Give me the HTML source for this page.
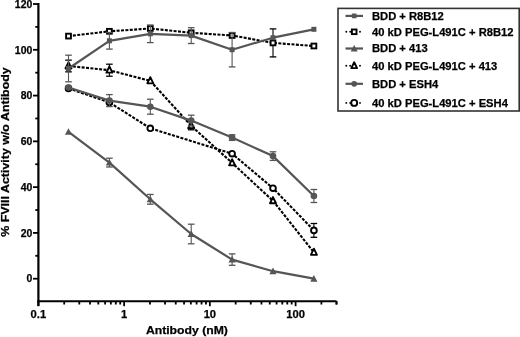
<!DOCTYPE html>
<html><head><meta charset="utf-8"><style>
html,body{margin:0;padding:0;background:#fff;}
svg{display:block;will-change:transform;}
.t{font-family:"Liberation Sans",sans-serif;font-weight:bold;font-size:11px;fill:#000;stroke:#000;stroke-width:0.25px;}
.lg{font-family:"Liberation Sans",sans-serif;font-weight:bold;font-size:11.2px;fill:#000;stroke:#000;stroke-width:0.25px;}
.ti{font-family:"Liberation Sans",sans-serif;font-weight:bold;font-size:11.6px;fill:#000;stroke:#000;stroke-width:0.25px;}
</style></head><body>
<svg width="520" height="337" viewBox="0 0 520 337">
<rect width="520" height="337" fill="#fff"/>
<line x1="109.40" y1="158.20" x2="109.40" y2="167.00" stroke="#555" stroke-width="1.1" />
<line x1="106.10" y1="158.20" x2="112.70" y2="158.20" stroke="#555" stroke-width="1.3" />
<line x1="106.10" y1="167.00" x2="112.70" y2="167.00" stroke="#555" stroke-width="1.3" />
<line x1="150.30" y1="194.45" x2="150.30" y2="204.15" stroke="#555" stroke-width="1.1" />
<line x1="147.00" y1="194.45" x2="153.60" y2="194.45" stroke="#555" stroke-width="1.3" />
<line x1="147.00" y1="204.15" x2="153.60" y2="204.15" stroke="#555" stroke-width="1.3" />
<line x1="191.20" y1="224.20" x2="191.20" y2="243.80" stroke="#555" stroke-width="1.1" />
<line x1="187.90" y1="224.20" x2="194.50" y2="224.20" stroke="#555" stroke-width="1.3" />
<line x1="187.90" y1="243.80" x2="194.50" y2="243.80" stroke="#555" stroke-width="1.3" />
<line x1="232.10" y1="253.90" x2="232.10" y2="265.30" stroke="#555" stroke-width="1.1" />
<line x1="228.80" y1="253.90" x2="235.40" y2="253.90" stroke="#555" stroke-width="1.3" />
<line x1="228.80" y1="265.30" x2="235.40" y2="265.30" stroke="#555" stroke-width="1.3" />
<polyline points="68.50,131.80 109.40,162.60 150.30,199.30 191.20,234.00 232.10,259.60 273.00,271.20 313.90,278.70" fill="none" stroke="#555" stroke-width="2.2" stroke-linejoin="round"/>
<path d="M68.50,128.17 L72.10,134.77 L64.90,134.77Z" fill="#555"/>
<path d="M109.40,158.97 L113.00,165.57 L105.80,165.57Z" fill="#555"/>
<path d="M150.30,195.67 L153.90,202.27 L146.70,202.27Z" fill="#555"/>
<path d="M191.20,230.37 L194.80,236.97 L187.60,236.97Z" fill="#555"/>
<path d="M232.10,255.97 L235.70,262.57 L228.50,262.57Z" fill="#555"/>
<path d="M273.00,267.57 L276.60,274.17 L269.40,274.17Z" fill="#555"/>
<path d="M313.90,275.07 L317.50,281.67 L310.30,281.67Z" fill="#555"/>
<line x1="68.50" y1="60.15" x2="68.50" y2="71.85" stroke="#000" stroke-width="1.1" />
<line x1="65.20" y1="60.15" x2="71.80" y2="60.15" stroke="#000" stroke-width="1.3" />
<line x1="65.20" y1="71.85" x2="71.80" y2="71.85" stroke="#000" stroke-width="1.3" />
<line x1="109.40" y1="64.20" x2="109.40" y2="76.20" stroke="#000" stroke-width="1.1" />
<line x1="106.10" y1="64.20" x2="112.70" y2="64.20" stroke="#000" stroke-width="1.3" />
<line x1="106.10" y1="76.20" x2="112.70" y2="76.20" stroke="#000" stroke-width="1.3" />
<line x1="191.20" y1="121.80" x2="191.20" y2="129.80" stroke="#000" stroke-width="1.1" />
<line x1="187.90" y1="121.80" x2="194.50" y2="121.80" stroke="#000" stroke-width="1.3" />
<line x1="187.90" y1="129.80" x2="194.50" y2="129.80" stroke="#000" stroke-width="1.3" />
<polyline points="68.50,66.00 109.40,70.20 150.30,80.90 191.20,125.80 232.10,162.90 273.00,200.80 313.90,252.40" fill="none" stroke="#000" stroke-width="2.1" stroke-dasharray="3.0 1.4"/>
<path d="M68.50,62.25 L71.50,68.45 L65.50,68.45Z" fill="#fff" stroke="#000" stroke-width="1.9" stroke-linejoin="round"/>
<path d="M109.40,66.45 L112.40,72.65 L106.40,72.65Z" fill="#fff" stroke="#000" stroke-width="1.9" stroke-linejoin="round"/>
<path d="M150.30,77.15 L153.30,83.35 L147.30,83.35Z" fill="#fff" stroke="#000" stroke-width="1.9" stroke-linejoin="round"/>
<path d="M191.20,122.05 L194.20,128.25 L188.20,128.25Z" fill="#fff" stroke="#000" stroke-width="1.9" stroke-linejoin="round"/>
<path d="M232.10,159.15 L235.10,165.35 L229.10,165.35Z" fill="#fff" stroke="#000" stroke-width="1.9" stroke-linejoin="round"/>
<path d="M273.00,197.05 L276.00,203.25 L270.00,203.25Z" fill="#fff" stroke="#000" stroke-width="1.9" stroke-linejoin="round"/>
<path d="M313.90,248.65 L316.90,254.85 L310.90,254.85Z" fill="#fff" stroke="#000" stroke-width="1.9" stroke-linejoin="round"/>
<line x1="313.90" y1="223.50" x2="313.90" y2="237.30" stroke="#000" stroke-width="1.1" />
<line x1="310.60" y1="223.50" x2="317.20" y2="223.50" stroke="#000" stroke-width="1.3" />
<line x1="310.60" y1="237.30" x2="317.20" y2="237.30" stroke="#000" stroke-width="1.3" />
<polyline points="68.50,88.40 109.40,102.40 150.30,128.30 232.10,153.70 273.00,188.20 313.90,230.40" fill="none" stroke="#000" stroke-width="2.1" stroke-dasharray="3.0 1.4"/>
<circle cx="68.50" cy="88.40" r="2.85" fill="#fff" stroke="#000" stroke-width="1.9"/>
<circle cx="109.40" cy="102.40" r="2.85" fill="#fff" stroke="#000" stroke-width="1.9"/>
<circle cx="150.30" cy="128.30" r="2.85" fill="#fff" stroke="#000" stroke-width="1.9"/>
<circle cx="232.10" cy="153.70" r="2.85" fill="#fff" stroke="#000" stroke-width="1.9"/>
<circle cx="273.00" cy="188.20" r="2.85" fill="#fff" stroke="#000" stroke-width="1.9"/>
<circle cx="313.90" cy="230.40" r="2.85" fill="#fff" stroke="#000" stroke-width="1.9"/>
<line x1="109.40" y1="94.60" x2="109.40" y2="106.60" stroke="#555" stroke-width="1.1" />
<line x1="106.10" y1="94.60" x2="112.70" y2="94.60" stroke="#555" stroke-width="1.3" />
<line x1="106.10" y1="106.60" x2="112.70" y2="106.60" stroke="#555" stroke-width="1.3" />
<line x1="150.30" y1="99.20" x2="150.30" y2="114.20" stroke="#555" stroke-width="1.1" />
<line x1="147.00" y1="99.20" x2="153.60" y2="99.20" stroke="#555" stroke-width="1.3" />
<line x1="147.00" y1="114.20" x2="153.60" y2="114.20" stroke="#555" stroke-width="1.3" />
<line x1="191.20" y1="115.20" x2="191.20" y2="126.00" stroke="#555" stroke-width="1.1" />
<line x1="187.90" y1="115.20" x2="194.50" y2="115.20" stroke="#555" stroke-width="1.3" />
<line x1="187.90" y1="126.00" x2="194.50" y2="126.00" stroke="#555" stroke-width="1.3" />
<line x1="232.10" y1="134.80" x2="232.10" y2="140.40" stroke="#555" stroke-width="1.1" />
<line x1="228.80" y1="134.80" x2="235.40" y2="134.80" stroke="#555" stroke-width="1.3" />
<line x1="228.80" y1="140.40" x2="235.40" y2="140.40" stroke="#555" stroke-width="1.3" />
<line x1="273.00" y1="151.80" x2="273.00" y2="160.40" stroke="#555" stroke-width="1.1" />
<line x1="269.70" y1="151.80" x2="276.30" y2="151.80" stroke="#555" stroke-width="1.3" />
<line x1="269.70" y1="160.40" x2="276.30" y2="160.40" stroke="#555" stroke-width="1.3" />
<line x1="313.90" y1="189.50" x2="313.90" y2="202.50" stroke="#555" stroke-width="1.1" />
<line x1="310.60" y1="189.50" x2="317.20" y2="189.50" stroke="#555" stroke-width="1.3" />
<line x1="310.60" y1="202.50" x2="317.20" y2="202.50" stroke="#555" stroke-width="1.3" />
<polyline points="68.50,87.50 109.40,100.60 150.30,106.70 191.20,120.60 232.10,137.60 273.00,156.10 313.90,196.00" fill="none" stroke="#555" stroke-width="2.2" stroke-linejoin="round"/>
<circle cx="68.50" cy="87.50" r="3.30" fill="#555"/>
<circle cx="109.40" cy="100.60" r="3.30" fill="#555"/>
<circle cx="150.30" cy="106.70" r="3.30" fill="#555"/>
<circle cx="191.20" cy="120.60" r="3.30" fill="#555"/>
<circle cx="232.10" cy="137.60" r="3.30" fill="#555"/>
<circle cx="273.00" cy="156.10" r="3.30" fill="#555"/>
<circle cx="313.90" cy="196.00" r="3.30" fill="#555"/>
<line x1="273.00" y1="28.90" x2="273.00" y2="56.90" stroke="#000" stroke-width="1.1" />
<line x1="269.70" y1="28.90" x2="276.30" y2="28.90" stroke="#000" stroke-width="1.3" />
<line x1="269.70" y1="56.90" x2="276.30" y2="56.90" stroke="#000" stroke-width="1.3" />
<polyline points="68.50,36.10 109.40,31.30 150.30,28.50 191.20,32.80 232.10,35.50 273.00,42.90 313.90,46.00" fill="none" stroke="#000" stroke-width="2.1" stroke-dasharray="3.0 1.4"/>
<rect x="66.10" y="33.70" width="4.80" height="4.80" fill="#fff" stroke="#000" stroke-width="1.9"/>
<rect x="107.00" y="28.90" width="4.80" height="4.80" fill="#fff" stroke="#000" stroke-width="1.9"/>
<rect x="147.90" y="26.10" width="4.80" height="4.80" fill="#fff" stroke="#000" stroke-width="1.9"/>
<rect x="188.80" y="30.40" width="4.80" height="4.80" fill="#fff" stroke="#000" stroke-width="1.9"/>
<rect x="229.70" y="33.10" width="4.80" height="4.80" fill="#fff" stroke="#000" stroke-width="1.9"/>
<rect x="270.60" y="40.50" width="4.80" height="4.80" fill="#fff" stroke="#000" stroke-width="1.9"/>
<rect x="311.50" y="43.60" width="4.80" height="4.80" fill="#fff" stroke="#000" stroke-width="1.9"/>
<line x1="68.50" y1="55.20" x2="68.50" y2="81.80" stroke="#555" stroke-width="1.1" />
<line x1="65.20" y1="55.20" x2="71.80" y2="55.20" stroke="#555" stroke-width="1.3" />
<line x1="65.20" y1="81.80" x2="71.80" y2="81.80" stroke="#555" stroke-width="1.3" />
<line x1="109.40" y1="32.50" x2="109.40" y2="49.10" stroke="#555" stroke-width="1.1" />
<line x1="106.10" y1="32.50" x2="112.70" y2="32.50" stroke="#555" stroke-width="1.3" />
<line x1="106.10" y1="49.10" x2="112.70" y2="49.10" stroke="#555" stroke-width="1.3" />
<line x1="150.30" y1="25.00" x2="150.30" y2="42.60" stroke="#555" stroke-width="1.1" />
<line x1="147.00" y1="25.00" x2="153.60" y2="25.00" stroke="#555" stroke-width="1.3" />
<line x1="147.00" y1="42.60" x2="153.60" y2="42.60" stroke="#555" stroke-width="1.3" />
<line x1="191.20" y1="27.70" x2="191.20" y2="43.50" stroke="#555" stroke-width="1.1" />
<line x1="187.90" y1="27.70" x2="194.50" y2="27.70" stroke="#555" stroke-width="1.3" />
<line x1="187.90" y1="43.50" x2="194.50" y2="43.50" stroke="#555" stroke-width="1.3" />
<line x1="232.10" y1="32.50" x2="232.10" y2="66.90" stroke="#555" stroke-width="1.1" />
<line x1="228.80" y1="32.50" x2="235.40" y2="32.50" stroke="#555" stroke-width="1.3" />
<line x1="228.80" y1="66.90" x2="235.40" y2="66.90" stroke="#555" stroke-width="1.3" />
<polyline points="68.50,68.50 109.40,40.80 150.30,33.80 191.20,35.60 232.10,49.70 273.00,37.70 313.90,29.30" fill="none" stroke="#555" stroke-width="2.2" stroke-linejoin="round"/>
<rect x="66.00" y="66.00" width="5.00" height="5.00" fill="#555"/>
<rect x="106.90" y="38.30" width="5.00" height="5.00" fill="#555"/>
<rect x="147.80" y="31.30" width="5.00" height="5.00" fill="#555"/>
<rect x="188.70" y="33.10" width="5.00" height="5.00" fill="#555"/>
<rect x="229.60" y="47.20" width="5.00" height="5.00" fill="#555"/>
<rect x="270.50" y="35.20" width="5.00" height="5.00" fill="#555"/>
<rect x="311.40" y="26.80" width="5.00" height="5.00" fill="#555"/>
<line x1="38.4" y1="3" x2="38.4" y2="306" stroke="#000" stroke-width="2.2"/>
<line x1="37.3" y1="301.2" x2="336.5" y2="301.2" stroke="#000" stroke-width="2"/>
<line x1="33.00" y1="278.70" x2="38.40" y2="278.70" stroke="#000" stroke-width="1.8" />
<text x="32.3" y="282.40" text-anchor="end" class="t" textLength="5.81" lengthAdjust="spacingAndGlyphs">0</text>
<line x1="33.00" y1="232.92" x2="38.40" y2="232.92" stroke="#000" stroke-width="1.8" />
<text x="32.3" y="236.62" text-anchor="end" class="t" textLength="11.62" lengthAdjust="spacingAndGlyphs">20</text>
<line x1="33.00" y1="187.14" x2="38.40" y2="187.14" stroke="#000" stroke-width="1.8" />
<text x="32.3" y="190.84" text-anchor="end" class="t" textLength="11.62" lengthAdjust="spacingAndGlyphs">40</text>
<line x1="33.00" y1="141.36" x2="38.40" y2="141.36" stroke="#000" stroke-width="1.8" />
<text x="32.3" y="145.06" text-anchor="end" class="t" textLength="11.62" lengthAdjust="spacingAndGlyphs">60</text>
<line x1="33.00" y1="95.58" x2="38.40" y2="95.58" stroke="#000" stroke-width="1.8" />
<text x="32.3" y="99.28" text-anchor="end" class="t" textLength="11.62" lengthAdjust="spacingAndGlyphs">80</text>
<line x1="33.00" y1="49.80" x2="38.40" y2="49.80" stroke="#000" stroke-width="1.8" />
<text x="32.3" y="53.50" text-anchor="end" class="t" textLength="17.43" lengthAdjust="spacingAndGlyphs">100</text>
<line x1="33.00" y1="4.02" x2="38.40" y2="4.02" stroke="#000" stroke-width="1.8" />
<text x="32.3" y="7.72" text-anchor="end" class="t" textLength="17.43" lengthAdjust="spacingAndGlyphs">120</text>
<line x1="35.30" y1="255.81" x2="38.40" y2="255.81" stroke="#000" stroke-width="1.8" />
<line x1="35.30" y1="210.03" x2="38.40" y2="210.03" stroke="#000" stroke-width="1.8" />
<line x1="35.30" y1="164.25" x2="38.40" y2="164.25" stroke="#000" stroke-width="1.8" />
<line x1="35.30" y1="118.47" x2="38.40" y2="118.47" stroke="#000" stroke-width="1.8" />
<line x1="35.30" y1="72.69" x2="38.40" y2="72.69" stroke="#000" stroke-width="1.8" />
<line x1="35.30" y1="26.91" x2="38.40" y2="26.91" stroke="#000" stroke-width="1.8" />
<line x1="38.40" y1="301.20" x2="38.40" y2="306.20" stroke="#000" stroke-width="1.8" />
<line x1="64.21" y1="301.20" x2="64.21" y2="304.50" stroke="#000" stroke-width="1.8" />
<line x1="79.30" y1="301.20" x2="79.30" y2="304.50" stroke="#000" stroke-width="1.8" />
<line x1="90.01" y1="301.20" x2="90.01" y2="304.50" stroke="#000" stroke-width="1.8" />
<line x1="98.32" y1="301.20" x2="98.32" y2="304.50" stroke="#000" stroke-width="1.8" />
<line x1="105.11" y1="301.20" x2="105.11" y2="304.50" stroke="#000" stroke-width="1.8" />
<line x1="110.85" y1="301.20" x2="110.85" y2="304.50" stroke="#000" stroke-width="1.8" />
<line x1="115.82" y1="301.20" x2="115.82" y2="304.50" stroke="#000" stroke-width="1.8" />
<line x1="120.21" y1="301.20" x2="120.21" y2="304.50" stroke="#000" stroke-width="1.8" />
<line x1="124.13" y1="301.20" x2="124.13" y2="306.20" stroke="#000" stroke-width="1.8" />
<line x1="149.94" y1="301.20" x2="149.94" y2="304.50" stroke="#000" stroke-width="1.8" />
<line x1="165.03" y1="301.20" x2="165.03" y2="304.50" stroke="#000" stroke-width="1.8" />
<line x1="175.74" y1="301.20" x2="175.74" y2="304.50" stroke="#000" stroke-width="1.8" />
<line x1="184.05" y1="301.20" x2="184.05" y2="304.50" stroke="#000" stroke-width="1.8" />
<line x1="190.84" y1="301.20" x2="190.84" y2="304.50" stroke="#000" stroke-width="1.8" />
<line x1="196.58" y1="301.20" x2="196.58" y2="304.50" stroke="#000" stroke-width="1.8" />
<line x1="201.55" y1="301.20" x2="201.55" y2="304.50" stroke="#000" stroke-width="1.8" />
<line x1="205.94" y1="301.20" x2="205.94" y2="304.50" stroke="#000" stroke-width="1.8" />
<line x1="209.86" y1="301.20" x2="209.86" y2="306.20" stroke="#000" stroke-width="1.8" />
<line x1="235.67" y1="301.20" x2="235.67" y2="304.50" stroke="#000" stroke-width="1.8" />
<line x1="250.76" y1="301.20" x2="250.76" y2="304.50" stroke="#000" stroke-width="1.8" />
<line x1="261.47" y1="301.20" x2="261.47" y2="304.50" stroke="#000" stroke-width="1.8" />
<line x1="269.78" y1="301.20" x2="269.78" y2="304.50" stroke="#000" stroke-width="1.8" />
<line x1="276.57" y1="301.20" x2="276.57" y2="304.50" stroke="#000" stroke-width="1.8" />
<line x1="282.31" y1="301.20" x2="282.31" y2="304.50" stroke="#000" stroke-width="1.8" />
<line x1="287.28" y1="301.20" x2="287.28" y2="304.50" stroke="#000" stroke-width="1.8" />
<line x1="291.67" y1="301.20" x2="291.67" y2="304.50" stroke="#000" stroke-width="1.8" />
<line x1="295.59" y1="301.20" x2="295.59" y2="306.20" stroke="#000" stroke-width="1.8" />
<line x1="321.40" y1="301.20" x2="321.40" y2="304.50" stroke="#000" stroke-width="1.8" />
<line x1="336.49" y1="301.20" x2="336.49" y2="304.50" stroke="#000" stroke-width="1.8" />
<line x1="336.49" y1="301.20" x2="336.49" y2="304.50" stroke="#000" stroke-width="1.8" />
<text x="38.40" y="318" text-anchor="middle" class="lg">0.1</text>
<text x="124.13" y="318" text-anchor="middle" class="lg">1</text>
<text x="209.86" y="318" text-anchor="middle" class="lg">10</text>
<text x="295.59" y="318" text-anchor="middle" class="lg">100</text>
<text x="186.9" y="334.2" text-anchor="middle" class="ti" textLength="82" lengthAdjust="spacingAndGlyphs">Antibody (nM)</text>
<text transform="translate(8.9,152) rotate(-90)" text-anchor="middle" class="ti" textLength="169.5" lengthAdjust="spacingAndGlyphs">% FVIII Activity w/o Antibody</text>
<rect x="338" y="8.4" width="181.2" height="102.6" fill="#fff" stroke="#333" stroke-width="1.6"/>
<line x1="345.5" y1="15.9" x2="363" y2="15.9" stroke="#555" stroke-width="2.2"/>
<rect x="351.85" y="13.55" width="4.70" height="4.70" fill="#555"/>
<text x="372" y="19.60" class="lg">BDD + R8B12</text>
<circle cx="346.3" cy="31.8" r="0.95" fill="#000"/>
<circle cx="350.2" cy="31.8" r="0.95" fill="#000"/>
<circle cx="360.0" cy="31.8" r="0.95" fill="#000"/>
<rect x="351.90" y="29.50" width="4.61" height="4.61" fill="#fff" stroke="#000" stroke-width="1.9"/>
<text x="372" y="35.60" class="lg">40 kD PEG-L491C + R8B12</text>
<line x1="345.5" y1="48.5" x2="363" y2="48.5" stroke="#555" stroke-width="2.2"/>
<path d="M354.20,44.94 L357.73,51.41 L350.67,51.41Z" fill="#555"/>
<text x="372" y="52.00" class="lg">BDD + 413</text>
<circle cx="346.3" cy="65.8" r="0.95" fill="#000"/>
<circle cx="350.2" cy="65.8" r="0.95" fill="#000"/>
<circle cx="360.0" cy="65.8" r="0.95" fill="#000"/>
<path d="M354.20,62.24 L357.05,68.13 L351.35,68.13Z" fill="#fff" stroke="#000" stroke-width="1.9" stroke-linejoin="round"/>
<text x="372" y="69.60" class="lg">40 kD PEG-L491C + 413</text>
<line x1="345.5" y1="83.8" x2="363" y2="83.8" stroke="#555" stroke-width="2.2"/>
<circle cx="354.20" cy="83.80" r="2.84" fill="#555"/>
<text x="372" y="87.60" class="lg">BDD + ESH4</text>
<circle cx="346.3" cy="102.9" r="0.95" fill="#000"/>
<circle cx="350.2" cy="102.9" r="0.95" fill="#000"/>
<circle cx="360.0" cy="102.9" r="0.95" fill="#000"/>
<circle cx="354.20" cy="102.90" r="2.99" fill="#fff" stroke="#000" stroke-width="1.9"/>
<text x="372" y="107.00" class="lg">40 kD PEG-L491C + ESH4</text>
</svg>
</body></html>
